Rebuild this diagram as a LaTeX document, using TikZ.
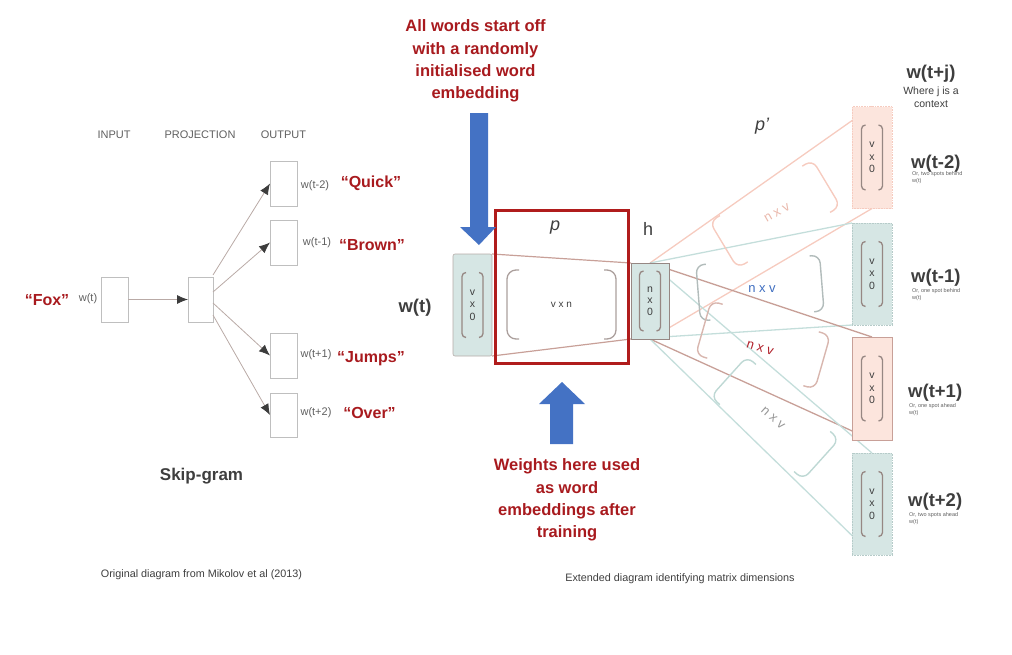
\documentclass[tikz,border=0pt]{standalone}
\usepackage{fontspec}
\setmainfont{Liberation Sans}
\usetikzlibrary{arrows.meta,backgrounds}
\definecolor{myred}{RGB}{168,26,30}
\definecolor{rectred}{RGB}{176,28,28}
\definecolor{myblue}{RGB}{68,114,196}
\definecolor{tealfill}{RGB}{214,230,228}
\definecolor{pinkfill}{RGB}{252,229,221}
\definecolor{tealline}{RGB}{196,222,219}
\definecolor{pinkline}{RGB}{246,203,191}
\definecolor{brownline}{RGB}{200,160,152}
\definecolor{brkcol}{RGB}{150,135,131}
\definecolor{txtgray}{RGB}{62,62,62}
\definecolor{midgray}{RGB}{95,95,95}
\definecolor{arrline}{RGB}{185,170,166}
\definecolor{arrtip}{RGB}{60,60,60}
\newcommand{\mybrk}[6]{%
  \begin{scope}[shift={#1}, rotate=#2]
    \draw[#6] (-#3+#5,-#4) -- (-#3,-#4) -- (-#3,#4) -- (-#3+#5,#4);
    \draw[#6] (#3-#5,-#4) -- (#3,-#4) -- (#3,#4) -- (#3-#5,#4);
  \end{scope}}
\begin{document}
\begin{tikzpicture}[x=1pt,y=-1pt,
  sbox/.style={draw=gray!50, line width=0.6pt, minimum width=27pt, minimum height=45pt, inner sep=0pt, outer sep=0pt},
  sarrow/.style={draw=arrline, line width=0.8pt, -{Latex[length=11pt,width=9pt,color=arrtip]}},
  smallgray/.style={text=midgray, font=\fontsize{11}{12}\selectfont},
  quoteword/.style={text=myred, font=\fontsize{16}{19}\selectfont\bfseries},
  redtxt/.style={text=myred, font=\fontsize{16.5}{22.3}\selectfont\bfseries, align=center},
  biglabel/.style={text=txtgray, font=\fontsize{18.5}{20}\selectfont\bfseries, inner sep=0pt},
  tinytxt/.style={text=midgray, font=\fontsize{5.5}{7.5}\selectfont, align=left, inner sep=0pt},
  captxt/.style={text=txtgray, font=\fontsize{10.8}{12}\selectfont},
  vecbox/.style={minimum width=40pt, minimum height=102pt, inner sep=0pt, outer sep=0pt, text=txtgray, font=\fontsize{10.5}{12.5}\selectfont, align=center},
  tealbox/.style={vecbox, fill=tealfill, draw=tealline!80!gray, densely dotted, line width=0.6pt},
  pinkbox/.style={vecbox, fill=pinkfill, draw=pinkline, densely dotted, line width=0.6pt},
  fanline/.style={line width=1.3pt},
  trapline/.style={draw=brownline, line width=1.2pt},
  fanbrk/.style={line width=1.4pt, rounded corners=8pt},
  boxbrk/.style={draw=brkcol, line width=1.3pt, rounded corners=4pt},
  nxv/.style={font=\fontsize{13}{13}\selectfont, inner sep=0pt}]
\useasboundingbox (0,0) rectangle (1012,654);

% ---------------- left: original skip-gram ----------------
\node[smallgray] (hin) at (114,135) {INPUT};
\node[smallgray] (hproj) at (200,135) {PROJECTION};
\node[smallgray] (hout) at (283.5,135) {OUTPUT};

\node[sbox] (in) at (114.5,299.5) {};
\node[sbox, minimum width=25pt] (proj) at (200.5,299.5) {};
\node[sbox] (oa) at (283.5,183.5) {};
\node[sbox] (ob) at (283.5,242.5) {};
\node[sbox] (oc) at (283.5,355.5) {};
\node[sbox, minimum height=44pt] (od) at (283.5,415) {};

\draw[sarrow] (in.east) -- (proj.west);
\draw[sarrow] ([yshift=24.5pt]proj.east) -- (oa.west);
\draw[sarrow] ([yshift=7.5pt]proj.east) -- (ob.west);
\draw[sarrow] ([yshift=-3.5pt]proj.east) -- (oc.west);
\draw[sarrow] ([yshift=-15.5pt]proj.east) -- (od.west);

\node[quoteword] (fox) at (47,300) {“Fox”};
\node[smallgray] (lwt) at (88,299) {w(t)};
\node[smallgray] (lwa) at (315,186) {w(t-2)};
\node[quoteword] (qa) at (371,183) {“Quick”};
\node[smallgray] (lwb) at (317,243) {w(t-1)};
\node[quoteword] (qb) at (372,245) {“Brown”};
\node[smallgray] (lwc) at (316,355) {w(t+1)};
\node[quoteword] (qc) at (371,359) {“Jumps”};
\node[smallgray] (lwd) at (316,413) {w(t+2)};
\node[quoteword] (qd) at (369.5,413) {“Over”};
\node[text=txtgray, font=\fontsize{17}{18}\selectfont\bfseries] (sg) at (201.5,476) {Skip-gram};
\node[captxt] (cap1) at (201.5,575) {Original diagram from Mikolov et al (2013)};

% ---------------- right: extended diagram ----------------
\node[tealbox, minimum width=39pt, solid, draw=brkcol!70, rounded corners=2pt] (wt) at (472.5,305) {v\\x\\0};
\node[vecbox, minimum width=38pt, minimum height=76pt, fill=tealfill, draw=brkcol, line width=1pt, font=\fontsize{10.5}{11.5}\selectfont] (hb) at (650,301) {n\\x\\0};
\node[draw=rectred, line width=3pt, minimum width=133pt, minimum height=153pt, inner sep=0pt] (pbox) at (561.5,286.5) {};
\node[text=txtgray, font=\fontsize{10}{10}\selectfont] (vxn) at (561.5,305) {v x n};

\node[pinkbox] (o1) at (872,157.5) {v\\x\\0};
\node[tealbox] (o2) at (872,274) {v\\x\\0};
\node[pinkbox, minimum height=103pt, solid, draw=brownline, line width=0.9pt] (o3) at (872,388.5) {v\\x\\0};
\node[tealbox] (o4) at (872,504) {v\\x\\0};

\begin{pgfonlayer}{background}
  \draw[trapline] (wt.north east) -- (hb.north west);
  \draw[trapline] (wt.south east) -- (hb.south west);
  \draw[fanline, draw=pinkline] (hb.north) -- (o1.north);
  \draw[fanline, draw=pinkline] (hb.south) -- (o1.south);
  \draw[fanline, draw=tealline] (hb.north) -- (o2.north west);
  \draw[fanline, draw=tealline] (hb.south west) -- (o2.south west);
  \draw[fanline, draw=brownline] (hb.north) -- (o3.north);
  \draw[fanline, draw=brownline] (hb.south) -- (o3.south);
  \draw[fanline, draw=tealline] (hb.north) -- (o4.north);
  \draw[fanline, draw=tealline] (hb.south) -- (o4.south);
  \mybrk{(775,214)}{31}{60}{27}{12}{fanbrk, draw=pinkline}
  \mybrk{(760,288)}{4.6}{62}{28}{10}{fanbrk, draw={rgb,255:red,178;green,188;blue,187}}
  \mybrk{(763,345)}{-16}{62}{28}{12}{fanbrk, draw={rgb,255:red,216;green,182;blue,174}}
  \mybrk{(775,418)}{-42}{62}{27}{12}{fanbrk, draw={rgb,255:red,190;green,216;blue,212}}
\end{pgfonlayer}

% brackets inside vectors and matrices
\mybrk{(wt.center)}{0}{10.5}{32.5}{4}{boxbrk}
\mybrk{(hb.center)}{0}{10.5}{30}{4}{boxbrk}
\mybrk{(561.5,304.5)}{0}{54.5}{34.5}{12}{draw=brkcol!80, line width=1.3pt, rounded corners=9pt}
\mybrk{(o1.center)}{0}{10.5}{32.5}{4}{boxbrk}
\mybrk{(o2.center)}{0}{10.5}{32.5}{4}{boxbrk}
\mybrk{(o3.center)}{0}{10.5}{32.5}{4}{boxbrk}
\mybrk{(o4.center)}{0}{10.5}{32.5}{4}{boxbrk}

\node[nxv, text={rgb,255:red,233;green,183;blue,170}, rotate=30] (nxv1) at (777,213) {n x v};
\node[nxv, text={rgb,255:red,63;green,110;blue,192}] (nxv2) at (762,289) {n x v};
\node[nxv, text={rgb,255:red,176;green,32;blue,42}, rotate=-18] (nxv3) at (760,348) {n x v};
\node[nxv, text={rgb,255:red,150;green,150;blue,150}, rotate=-42] (nxv4) at (773,418) {n x v};

% labels
\node[biglabel] (lwtr) at (415,308) {w(t)};
\node[text=txtgray, font=\fontsize{18}{18}\selectfont\itshape] (lp) at (555,228) {p};
\node[text=txtgray, font=\fontsize{18}{18}\selectfont] (lh) at (648,229) {h};
\node[text=txtgray, font=\fontsize{18}{18}\selectfont\itshape] (lpp) at (762,126) {p’};

\node[biglabel] (wtj) at (931,74) {w(t+j)};
\node[text=txtgray, font=\fontsize{10.5}{13}\selectfont, align=center, inner sep=0pt] (wjc) at (931,97) {Where j is a\\context};

\node[biglabel, anchor=west] (r1) at (911,164) {w(t-2)};
\node[tinytxt, anchor=north west] (s1) at (912,171) {Or, two spots behind\\w(t)};
\node[biglabel, anchor=west] (r2) at (911,278) {w(t-1)};
\node[tinytxt, anchor=north west] (s2) at (912,288) {Or, one spot behind\\w(t)};
\node[biglabel, anchor=west] (r3) at (908,393) {w(t+1)};
\node[tinytxt, anchor=north west] (s3) at (909,403) {Or, one spot ahead\\w(t)};
\node[biglabel, anchor=west] (r4) at (908,502) {w(t+2)};
\node[tinytxt, anchor=north west] (s4) at (909,512) {Or, two spots ahead\\w(t)};

% annotations
\node[redtxt] (topnote) at (475.5,61) {All words start off\\with a randomly\\initialised word\\embedding};
\fill[myblue] (470,113) -- (488,113) -- (488,227) -- (496,227) -- (479,245) -- (460,227) -- (470,227) -- cycle;
\fill[myblue] (550,444) -- (573,444) -- (573,404) -- (585,404) -- (562,382) -- (539,404) -- (550,404) -- cycle;
\node[redtxt] (botnote) at (567,500) {Weights here used\\as word\\embeddings after\\training};
\node[captxt] (cap2) at (680,579) {Extended diagram identifying matrix dimensions};
\end{tikzpicture}
\end{document}
